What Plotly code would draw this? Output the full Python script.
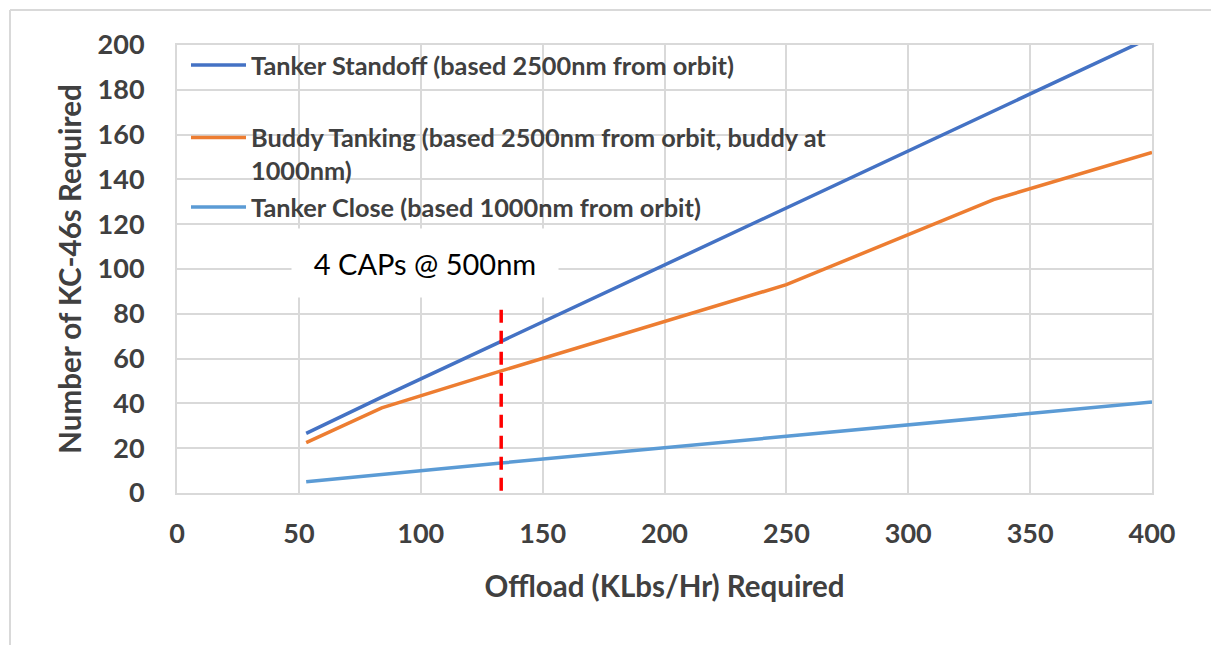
import plotly.graph_objects as go

# ---- data ----
offload = [53, 84, 133, 250, 335, 400]
standoff = [26.6, 42.8, 67.7, 127.3, 170.5, 203.6]
buddy = [22.5, 38.0, 54.5, 93.0, 131.0, 152.0]
close = [5.0, 8.4, 13.4, 25.3, 34.0, 40.6]

cap_x = [133, 133]
cap_y = [1, 83]

x_ticks = [0, 50, 100, 150, 200, 250, 300, 350, 400]
y_ticks = [0, 20, 40, 60, 80, 100, 120, 140, 160, 180, 200]

names = [
    "Tanker Standoff (based 2500nm from orbit)",
    "Buddy Tanking (based 2500nm from orbit, buddy at<br>1000nm)",
    "Tanker Close (based 1000nm from orbit)",
]
colors = ["#4472C4", "#ED7D31", "#5B9BD5"]

TXT = "#404040"
GRID = "#D9D9D9"
FONT = "Lato"

fig = go.Figure()
for ys, nm, col, lg in zip([standoff, buddy, close], names, colors,
                           ["legend", "legend2", "legend3"]):
    fig.add_trace(go.Scatter(x=offload, y=ys, mode="lines", name=nm,
                             line=dict(color=col, width=3.5), legend=lg))

fig.add_trace(go.Scatter(x=cap_x, y=cap_y, mode="lines", showlegend=False,
                         line=dict(color="#FF0000", width=3.5, dash="13px,8px")))

W, H = 1211, 645
L, R, T, B = 177, 59, 45, 152
pw, ph = W - L - R, H - T - B


def px(x):
    return (x - L) / pw


def py(y):
    return (H - B - y) / ph


leg_common = dict(font=dict(family=FONT, size=25.3, color=TXT, weight="bold"),
                  bgcolor="rgba(0,0,0,0)",
                  itemwidth=55, valign="top", xanchor="left", yanchor="middle",
                  borderwidth=0, tracegroupgap=0)

fig.update_layout(
    width=W, height=H,
    margin=dict(l=L, r=R, t=T, b=B),
    paper_bgcolor="white", plot_bgcolor="white",
    font=dict(family=FONT, color=TXT),
    legend=dict(x=px(186), y=py(65), **leg_common),
    legend2=dict(x=px(186), y=py(154), **leg_common),
    legend3=dict(x=px(186), y=py(207), **leg_common),
    xaxis=dict(range=[0, 400], tickvals=x_ticks, showgrid=True, gridcolor=GRID, gridwidth=2,
               showline=True, linecolor=GRID, linewidth=2, mirror=True, zeroline=False,
               ticks="", ticklabelstandoff=16,
               tickfont=dict(family=FONT, size=27, color=TXT, weight="bold"),
               title=dict(text="<b>Offload (KLbs/Hr) Required</b>", standoff=28,
                          font=dict(family=FONT, size=29.5, color=TXT))),
    yaxis=dict(range=[0, 200], tickvals=y_ticks, showgrid=True, gridcolor=GRID, gridwidth=2,
               showline=True, linecolor=GRID, linewidth=2, mirror=True, zeroline=False,
               ticks="", ticklabelstandoff=25,
               tickfont=dict(family=FONT, size=27, color=TXT, weight="bold"),
               title=dict(text="<b>Number of KC-46s Required</b>", standoff=7,
                          font=dict(family=FONT, size=29.5, color=TXT))),
    annotations=[dict(text="4 CAPs @ 500nm", x=px(425), y=py(263), xref="paper", yref="paper",
                      xanchor="center", yanchor="middle", showarrow=False,
                      font=dict(family=FONT, size=29, color="black"),
                      bgcolor="white", width=266, height=68, borderpad=0)],
    shapes=[
        dict(type="line", xref="paper", yref="paper", x0=px(10), x1=px(W + 5), y0=py(10), y1=py(10),
             line=dict(color=GRID, width=2)),
        dict(type="line", xref="paper", yref="paper", x0=px(10), x1=px(10), y0=py(10), y1=py(H + 5),
             line=dict(color=GRID, width=2)),
    ],
)

fig.write_html("out.html", config={"displayModeBar": False},
               post_script="document.body.style.margin='0';document.body.style.overflow='hidden';")
